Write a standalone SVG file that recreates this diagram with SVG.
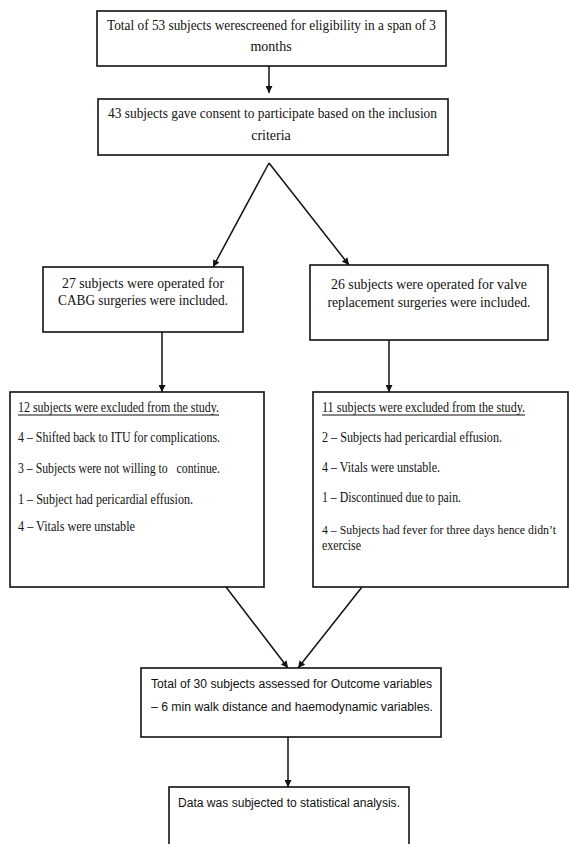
<svg xmlns="http://www.w3.org/2000/svg" width="570" height="844" viewBox="0 0 570 844">
<style>
.box{fill:#fff;stroke:#111;stroke-width:1.6}
.t{font-family:"Liberation Serif","Times New Roman",serif;font-size:14px;fill:#111}
.s{font-family:"Liberation Sans",Arial,sans-serif;font-size:12.5px;fill:#111}
.c{text-anchor:middle}
.ln{stroke:#111;stroke-width:1.5;fill:none;marker-end:url(#ah)}
</style>
<defs>
<marker id="ah" viewBox="0 0 10 10" refX="10" refY="5" markerWidth="7" markerHeight="7" markerUnits="userSpaceOnUse" orient="auto">
<path d="M0,0 L10,5 L0,10 z" fill="#111"/>
</marker>
</defs>
<rect width="570" height="844" fill="#fff"/>
<g id="connectors">
<line class="ln" x1="269" y1="66" x2="269" y2="93"/>
<line class="ln" x1="269" y1="163" x2="213" y2="267"/>
<line class="ln" x1="269" y1="163" x2="349" y2="265"/>
<line class="ln" x1="162" y1="332" x2="162" y2="392"/>
<line class="ln" x1="389" y1="340" x2="389" y2="392"/>
<line class="ln" x1="226" y1="587" x2="288" y2="668"/>
<line class="ln" x1="362" y1="587" x2="298" y2="668"/>
<line class="ln" x1="288" y1="737" x2="288" y2="787"/>
</g>
<g id="n1">
<rect class="box" x="97" y="11" width="349" height="55"/>
<text class="t" x="107" y="30" textLength="329" lengthAdjust="spacingAndGlyphs">Total of 53 subjects werescreened for eligibility in a span of 3</text>
<text class="t c" x="271" y="51">months</text>
</g>
<g id="n2">
<rect class="box" x="98" y="99" width="350" height="56"/>
<text class="t" x="108" y="118" textLength="329" lengthAdjust="spacingAndGlyphs">43 subjects gave consent to participate based on the inclusion</text>
<text class="t c" x="271" y="140">criteria</text>
</g>
<g id="n3">
<rect class="box" x="43" y="267" width="200" height="65"/>
<text class="t c" x="143" y="288" textLength="162" lengthAdjust="spacingAndGlyphs">27 subjects were operated for</text>
<text class="t c" x="143" y="305" textLength="170" lengthAdjust="spacingAndGlyphs">CABG surgeries were included.</text>
</g>
<g id="n4">
<rect class="box" x="310" y="265" width="238" height="75"/>
<text class="t c" x="429" y="289" textLength="196" lengthAdjust="spacingAndGlyphs">26 subjects were operated for valve</text>
<text class="t c" x="429" y="307" textLength="203" lengthAdjust="spacingAndGlyphs">replacement surgeries were included.</text>
</g>
<g id="n5">
<rect class="box" x="10" y="392" width="254" height="195"/>
<text class="t" x="18" y="412" textLength="201" lengthAdjust="spacingAndGlyphs">12 subjects were excluded from the study.</text>
<line x1="18" y1="415" x2="219" y2="415" stroke="#111" stroke-width="1"/>
<text class="t" x="18" y="442" textLength="202" lengthAdjust="spacingAndGlyphs">4 – Shifted back to ITU for complications.</text>
<text class="t" x="18" y="473" textLength="202" lengthAdjust="spacingAndGlyphs" xml:space="preserve">3 – Subjects were not willing to   continue.</text>
<text class="t" x="18" y="504" textLength="175" lengthAdjust="spacingAndGlyphs">1 – Subject had pericardial effusion.</text>
<text class="t" x="18" y="531" textLength="117" lengthAdjust="spacingAndGlyphs">4 – Vitals were unstable</text>
</g>
<g id="n6">
<rect class="box" x="313" y="392" width="255" height="195"/>
<text class="t" x="322" y="412" textLength="203" lengthAdjust="spacingAndGlyphs">11 subjects were excluded from the study.</text>
<line x1="322" y1="415" x2="525" y2="415" stroke="#111" stroke-width="1"/>
<text class="t" x="322" y="442" textLength="180" lengthAdjust="spacingAndGlyphs">2 – Subjects had pericardial effusion.</text>
<text class="t" x="322" y="472" textLength="118" lengthAdjust="spacingAndGlyphs">4 – Vitals were unstable.</text>
<text class="t" x="322" y="502" textLength="139" lengthAdjust="spacingAndGlyphs">1 – Discontinued due to pain.</text>
<text class="t" x="322" y="534" font-size="12" textLength="234" lengthAdjust="spacingAndGlyphs" style="font-size:12px">4 – Subjects had fever for three days hence didn’t</text>
<text class="t" x="322" y="550" textLength="39" lengthAdjust="spacingAndGlyphs">exercise</text>
</g>
<g id="n7">
<rect class="box" x="141" y="668" width="300" height="69"/>
<text class="s" x="151" y="688" textLength="281" lengthAdjust="spacingAndGlyphs">Total of 30 subjects assessed for Outcome variables</text>
<text class="s" x="151" y="711" textLength="282" lengthAdjust="spacingAndGlyphs">– 6 min walk distance and haemodynamic variables.</text>
</g>
<g id="n8">
<rect class="box" x="169" y="787" width="240" height="70"/>
<text class="s" x="178" y="807" textLength="222" lengthAdjust="spacingAndGlyphs">Data was subjected to statistical analysis.</text>
</g>
</svg>
